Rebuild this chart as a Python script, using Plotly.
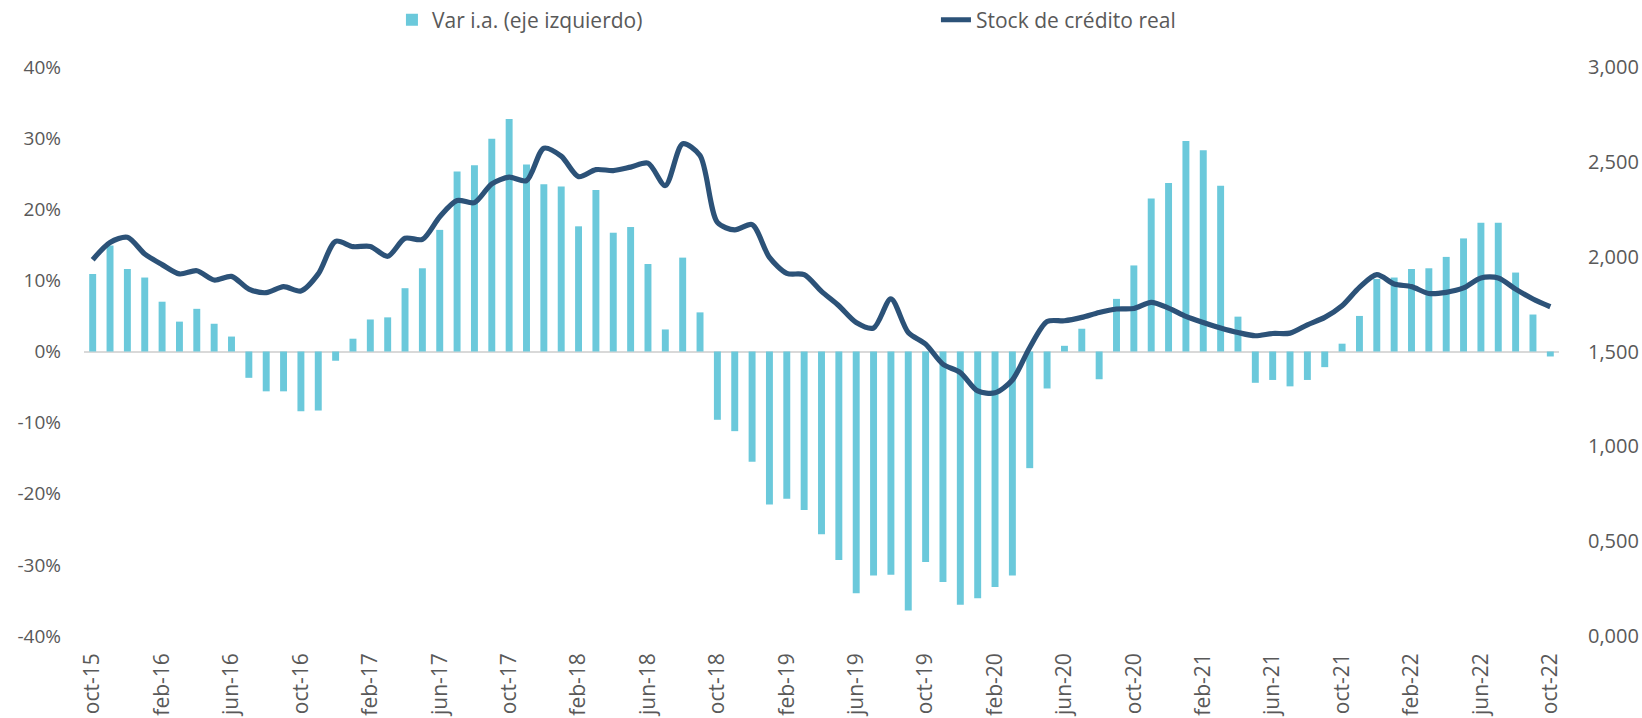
import plotly.graph_objects as go

# Monthly categories oct-15 .. oct-22
MESES = ["ene", "feb", "mar", "abr", "may", "jun", "jul", "ago", "sep", "oct", "nov", "dic"]
months = []
for k in range(85):
    m = (9 + k) % 12
    yy = 15 + (9 + k) // 12
    months.append(f"{MESES[m]}-{yy:02d}")

tick_months = months[::4]

# Var i.a. (%), left axis
var_ia = [
    10.9, 14.9, 11.6, 10.4, 7.0, 4.2, 6.0, 3.9, 2.1,
    -3.7, -5.6, -5.6, -8.4, -8.3, -1.3,
    1.8, 4.5, 4.8, 8.9, 11.7, 17.1, 25.3, 26.2, 29.9, 32.7, 26.3,
    23.5, 23.2, 17.6, 22.7, 16.7, 17.5, 12.3, 3.1, 13.2, 5.5,
    -9.6, -11.2, -15.5, -21.5, -20.7, -22.3, -25.7, -29.3, -34.0, -31.5,
    -31.4, -36.4, -29.6, -32.4, -35.6, -34.7, -33.1, -31.5, -16.4, -5.2,
    0.8, 3.2, -3.9, 7.4,
    12.1, 21.5, 23.7, 29.6, 28.3, 23.3, 4.9,
    -4.4, -4.0, -4.9, -4.0, -2.2,
    1.1, 5.0, 10.2, 10.4, 11.6, 11.7, 13.3, 15.9, 18.1, 18.1, 11.1, 5.2, -0.7,
]

# Stock de crédito real, right axis
stock = [
    1984, 2075, 2102, 2014, 1958, 1909, 1926, 1877, 1896, 1829,
    1810, 1842, 1819, 1909, 2081, 2053, 2054, 2002, 2097, 2091,
    2211, 2296, 2285, 2384, 2419, 2401, 2572, 2530, 2422, 2459,
    2454, 2472, 2493, 2375, 2595, 2533, 2181, 2141, 2169, 1996,
    1912, 1905, 1817, 1741, 1653, 1624, 1777, 1600, 1539, 1433,
    1389, 1292, 1282, 1350, 1521, 1658, 1662, 1680, 1706, 1724,
    1727, 1759, 1729, 1685, 1653, 1624, 1600, 1583, 1595, 1597,
    1641, 1680, 1741, 1838, 1905, 1856, 1842, 1806, 1812, 1835,
    1888, 1888, 1829, 1777, 1736,
]

left_ticks = [-40, -30, -20, -10, 0, 10, 20, 30, 40]
left_labels = ["-40%", "-30%", "-20%", "-10%", "0%", "10%", "20%", "30%", "40%"]
right_ticks = [0, 500, 1000, 1500, 2000, 2500, 3000]
right_labels = ["0,000", "0,500", "1,000", "1,500", "2,000", "2,500", "3,000"]

BAR_COLOR = "#6BC9DB"
LINE_COLOR = "#2C5278"
TXT = "#595959"
FONT = "Open Sans"

fig = go.Figure()
fig.add_trace(go.Bar(
    x=months, y=var_ia, name="Var i.a. (eje izquierdo)",
    marker=dict(color=BAR_COLOR, line=dict(width=0)),
))
fig.add_trace(go.Scatter(
    x=months, y=stock, name="Stock de crédito real", yaxis="y2",
    mode="lines", line=dict(color=LINE_COLOR, width=5.2, shape="spline", smoothing=0.8),
))

fig.update_layout(
    width=1642, height=718,
    margin=dict(l=84, r=83, t=67, b=82),
    plot_bgcolor="white", paper_bgcolor="white",
    bargap=0.6,
    font=dict(family=FONT, color=TXT, size=18),
    legend=dict(
        orientation="h", xref="container", yref="container",
        x=0.2387, xanchor="left", y=0.972, yanchor="middle",
        font=dict(size=21, color=TXT), entrywidth=499, traceorder="normal",
    ),
    xaxis=dict(
        type="category", tickmode="array", tickvals=tick_months, ticktext=tick_months,
        tickangle=-90, tickfont=dict(size=21, color=TXT), showgrid=False,
        showline=False, ticklabelstandoff=12, range=[-0.5, 84.5], automargin=False,
    ),
    yaxis=dict(
        range=[-40, 40], tickvals=left_ticks, ticktext=left_labels, showgrid=False,
        zeroline=True, zerolinecolor="#D9D9D9", zerolinewidth=2,
        tickfont=dict(size=19, color=TXT), ticklabelstandoff=22, automargin=False,
    ),
    yaxis2=dict(
        range=[0, 3000], overlaying="y", side="right", tickvals=right_ticks,
        ticktext=right_labels, showgrid=False, zeroline=False,
        tickfont=dict(size=20, color=TXT), ticklabelstandoff=28, automargin=False,
    ),
)

# drop the default page margin so the figure sits at the window origin
fig.write_html(
    "out.html",
    config={"displayModeBar": False},
    post_script="document.body.style.margin='0';",
)
